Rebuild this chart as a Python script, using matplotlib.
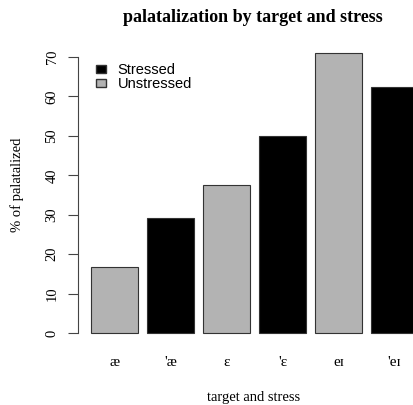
import matplotlib.pyplot as plt
from matplotlib.patches import Patch

# data
targets = ['æ', "'æ", 'ɛ', "'ɛ", 'eɪ', "'eɪ"]
stress = ['Unstressed', 'Stressed', 'Unstressed', 'Stressed', 'Unstressed', 'Stressed']
pct_palatalized = [16.7, 29.2, 37.5, 50.0, 71.0, 62.5]

colors = {'Stressed': 'black', 'Unstressed': '#b3b3b3'}
serif = 'Liberation Serif'

W, H = 414, 405
fig = plt.figure(figsize=(W / 100, H / 100), dpi=100)
# axes placed in pixel terms (R-style plot region, cut off at the right edge)
ax = fig.add_axes([78 / W, (H - 344) / H, 336 / W, 302 / H])

pos = [0.7 + 1.2 * i for i in range(len(targets))]
ax.bar(pos, pct_palatalized, width=1.0,
       color=[colors[s] for s in stress], edgecolor='#333333', linewidth=0.8)

ax.set_xlim(-0.079, 7.116)
ax.set_ylim(-2.79, 73.8)

for s in ['top', 'right', 'bottom']:
    ax.spines[s].set_visible(False)
ax.spines['left'].set_bounds(0, 70)
ax.spines['left'].set_color('#444444')

ax.set_yticks(range(0, 71, 10))
ax.set_yticklabels([str(v) for v in range(0, 71, 10)], rotation=90,
                   va='center', family=serif, fontsize=10.5)
ax.tick_params(axis='y', length=7, pad=7, color='#444444')

ax.set_xticks(pos)
ax.set_xticklabels(targets, family=serif, fontsize=11)
ax.tick_params(axis='x', length=0, pad=9)

fig.text(254 / W, 1 - 397 / H, 'target and stress', ha='center', va='center',
         family=serif, fontsize=10.5)
fig.text(17 / W, 1 - 185 / H, '% of palatalized', ha='center', va='center',
         rotation=90, family=serif, fontsize=10.5)
fig.text(253 / W, 1 - 18 / H, 'palatalization by target and stress', ha='center',
         va='center', family=serif, fontsize=13, fontweight='bold')

handles = [Patch(facecolor='black', edgecolor='#333333', label='Stressed'),
           Patch(facecolor='#b3b3b3', edgecolor='#333333', label='Unstressed')]
fig.legend(handles=handles, loc='upper left', bbox_to_anchor=(89 / W, 1 - 56 / H),
           frameon=False, borderpad=0, handlelength=0.7, handleheight=0.5,
           handletextpad=0.75, labelspacing=0.0,
           prop={'family': 'Liberation Sans', 'size': 10.5})

plt.savefig('out.png', dpi=100)
